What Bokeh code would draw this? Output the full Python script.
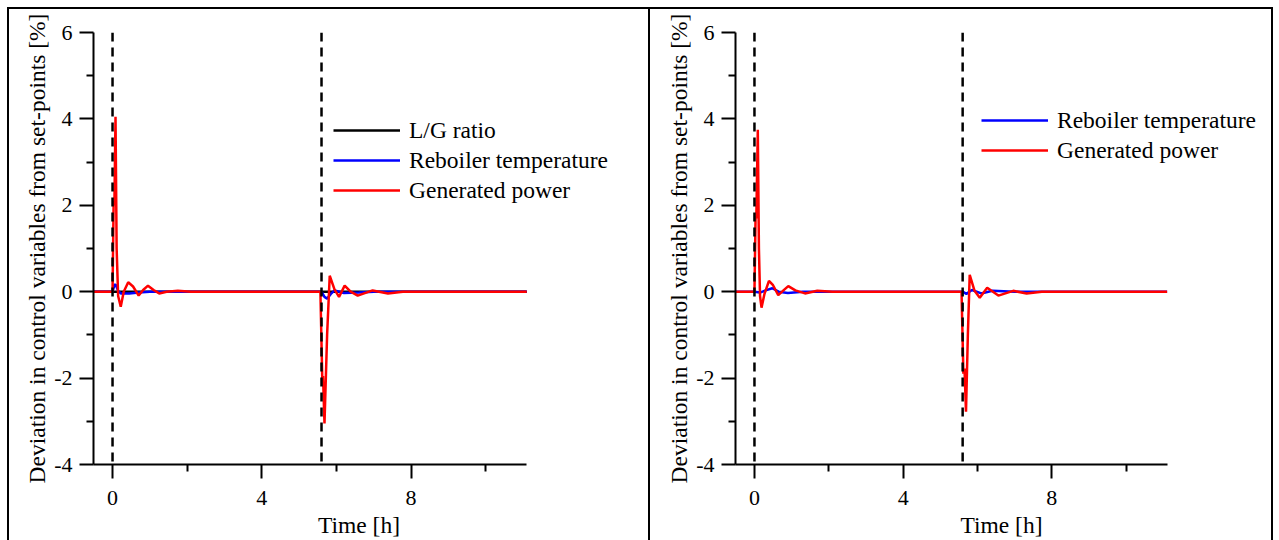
from bokeh.plotting import figure
from bokeh.models import Range1d, FixedTicker, Legend, LegendItem, Span
from bokeh.layouts import row
from bokeh.embed import file_html
from bokeh.resources import INLINE

# ---------------- data ----------------
switch_times = [0.0, 5.6]

# left panel
t_lg_left = [-0.5, 11.1]
lg_left = [0.0, 0.0]

t_reb_left = [-0.5, 0.0, 0.05, 0.08, 0.15, 0.22, 0.45, 0.7, 1.0, 5.6, 5.68, 5.75,
              5.85, 5.95, 6.2, 6.6, 7.0, 11.1]
reb_left = [0.0, 0.0, 0.15, 0.17, 0.02, -0.04, -0.04, -0.02, 0.0, 0.0, -0.12, -0.16,
            -0.05, 0.03, -0.03, -0.02, 0.0, 0.0]

t_pow_left = [-0.5, 0.0, 0.03, 0.05, 0.08, 0.11, 0.15, 0.22, 0.3, 0.42, 0.55, 0.7,
              0.82, 0.95, 1.1, 1.25, 1.45, 1.75, 2.1, 5.57, 5.62, 5.64, 5.68, 5.75,
              5.82, 5.95, 6.07, 6.22, 6.38, 6.57, 6.97, 7.38, 7.78, 11.1]
pow_left = [0.0, 0.0, 2.1, 2.0, 4.05, 1.0, -0.1, -0.35, 0.0, 0.22, 0.12, -0.09,
            0.04, 0.14, 0.04, -0.04, 0.0, 0.02, 0.0, 0.0, -2.0, -1.95, -3.05, -1.0,
            0.37, 0.05, -0.12, 0.14, 0.0, -0.09, 0.03, -0.04, 0.0, 0.0]

# right panel
t_reb_right = [-0.5, 0.0, 0.15, 0.3, 0.48, 0.65, 0.9, 1.3, 5.6, 5.7, 5.85, 6.1,
               6.4, 7.0, 11.1]
reb_right = [0.0, 0.0, -0.02, 0.03, 0.08, 0.0, -0.03, 0.0, 0.0, -0.05, 0.04, -0.04,
             0.02, 0.0, 0.0]

t_pow_right = [-0.5, 0.0, 0.03, 0.05, 0.09, 0.12, 0.15, 0.19, 0.27, 0.39, 0.5, 0.64,
               0.78, 0.91, 1.1, 1.36, 1.69, 2.1, 5.57, 5.62, 5.65, 5.69, 5.74, 5.79,
               5.92, 6.06, 6.26, 6.56, 6.96, 7.32, 7.73, 11.1]
pow_right = [0.0, 0.0, 1.75, 1.7, 3.75, 1.0, -0.1, -0.37, -0.05, 0.25, 0.15, -0.08,
             0.03, 0.13, 0.03, -0.04, 0.02, 0.0, 0.0, -1.9, -1.78, -2.78, -1.0, 0.39,
             0.02, -0.14, 0.09, -0.09, 0.02, -0.04, 0.0, 0.0]

x_major = [0, 4, 8]
x_minor = [2, 6, 10]
y_major = [-4, -2, 0, 2, 4, 6]
y_minor = [-3, -1, 1, 3, 5]
x_axis_span = (-0.51, 11.1)

x_label = "Time [h]"
y_label = "Deviation in control variables from set-points [%]"
FONT = "Liberation Serif"
PX_PER_H = 430 / (x_axis_span[1] - x_axis_span[0])


def make_fig(width, left_border, frame_w):
    right_border = width - left_border - frame_w
    x_end = x_axis_span[0] + frame_w / PX_PER_H
    p = figure(width=width, height=531, output_backend="svg", toolbar_location=None,
               x_range=Range1d(x_axis_span[0], x_end), y_range=Range1d(-4, 6),
               min_border_left=left_border, min_border_right=right_border,
               min_border_top=23, min_border_bottom=78)
    p.outline_line_color = None
    p.grid.visible = False
    p.background_fill_color = "white"
    p.border_fill_color = "white"
    p.xaxis.ticker = FixedTicker(ticks=x_major, minor_ticks=x_minor)
    p.yaxis.ticker = FixedTicker(ticks=y_major, minor_ticks=y_minor)
    p.xaxis.bounds = x_axis_span
    p.xaxis.major_label_overrides = {v: str(v) for v in x_major}
    p.yaxis.major_label_overrides = {v: str(v) for v in y_major}
    for ax in (p.xaxis[0], p.yaxis[0]):
        ax.axis_line_width = 2
        ax.major_tick_line_width = 2
        ax.minor_tick_line_width = 2
        ax.major_tick_out = 14
        ax.major_tick_in = 0
        ax.minor_tick_out = 7
        ax.minor_tick_in = 0
        ax.major_label_text_font = FONT
        ax.major_label_text_font_size = "22px"
        ax.major_label_text_color = "black"
        ax.axis_label_text_font = FONT
        ax.axis_label_text_font_size = "23.5px"
        ax.axis_label_text_font_style = "normal"
        ax.axis_label_text_color = "black"
    p.xaxis.axis_label = x_label
    p.yaxis.axis_label = y_label
    p.xaxis.major_label_standoff = 12
    p.xaxis.axis_label_standoff = 4
    p.yaxis.major_label_standoff = 7
    p.yaxis.axis_label_standoff = 1
    for t in switch_times:
        p.add_layout(Span(location=t, dimension="height", line_color="black",
                          line_width=2.5, line_dash="9 6"))
    return p


def style_legend(leg):
    leg.border_line_alpha = 0
    leg.background_fill_alpha = 0
    leg.padding = 0
    leg.margin = 0
    leg.spacing = 0
    leg.glyph_width = 67
    leg.glyph_height = 30
    leg.label_height = 30
    leg.label_standoff = 9
    leg.label_text_font = FONT
    leg.label_text_font_size = "23.5px"
    leg.label_text_color = "black"


# left panel: canvas x 9..648, y 9..540
p1 = make_fig(639, 84, 527)
r_lg = p1.line(t_lg_left, lg_left, line_color="black", line_width=2.5)
r_reb1 = p1.line(t_reb_left, reb_left, line_color="blue", line_width=2.5)
r_pow1 = p1.line(t_pow_left, pow_left, line_color="red", line_width=2.5)
leg1 = Legend(items=[LegendItem(label="L/G ratio", renderers=[r_lg]),
                     LegendItem(label="Reboiler temperature", renderers=[r_reb1]),
                     LegendItem(label="Generated power", renderers=[r_pow1])],
              location=(240, 259))
style_legend(leg1)
p1.add_layout(leg1)

# right panel: canvas x 650..1271
p2 = make_fig(621, 85, 530)
r_reb2 = p2.line(t_reb_right, reb_right, line_color="blue", line_width=2.5)
r_pow2 = p2.line(t_pow_right, pow_right, line_color="red", line_width=2.5)
leg2 = Legend(items=[LegendItem(label="Reboiler temperature", renderers=[r_reb2]),
                     LegendItem(label="Generated power", renderers=[r_pow2])],
              location=(246, 299))
style_legend(leg2)
p2.add_layout(leg2)

p1.margin = (7, 0, 0, 7)
p2.margin = (7, 0, 0, 0)
p1.styles = {"border-top": "2px solid black", "border-left": "2px solid black",
             "border-right": "2px solid black", "box-sizing": "content-box"}
p2.styles = {"border-top": "2px solid black", "border-right": "2px solid black",
             "box-sizing": "content-box"}

layout = row(p1, p2)
open("out.html", "w").write(file_html(layout, INLINE))
